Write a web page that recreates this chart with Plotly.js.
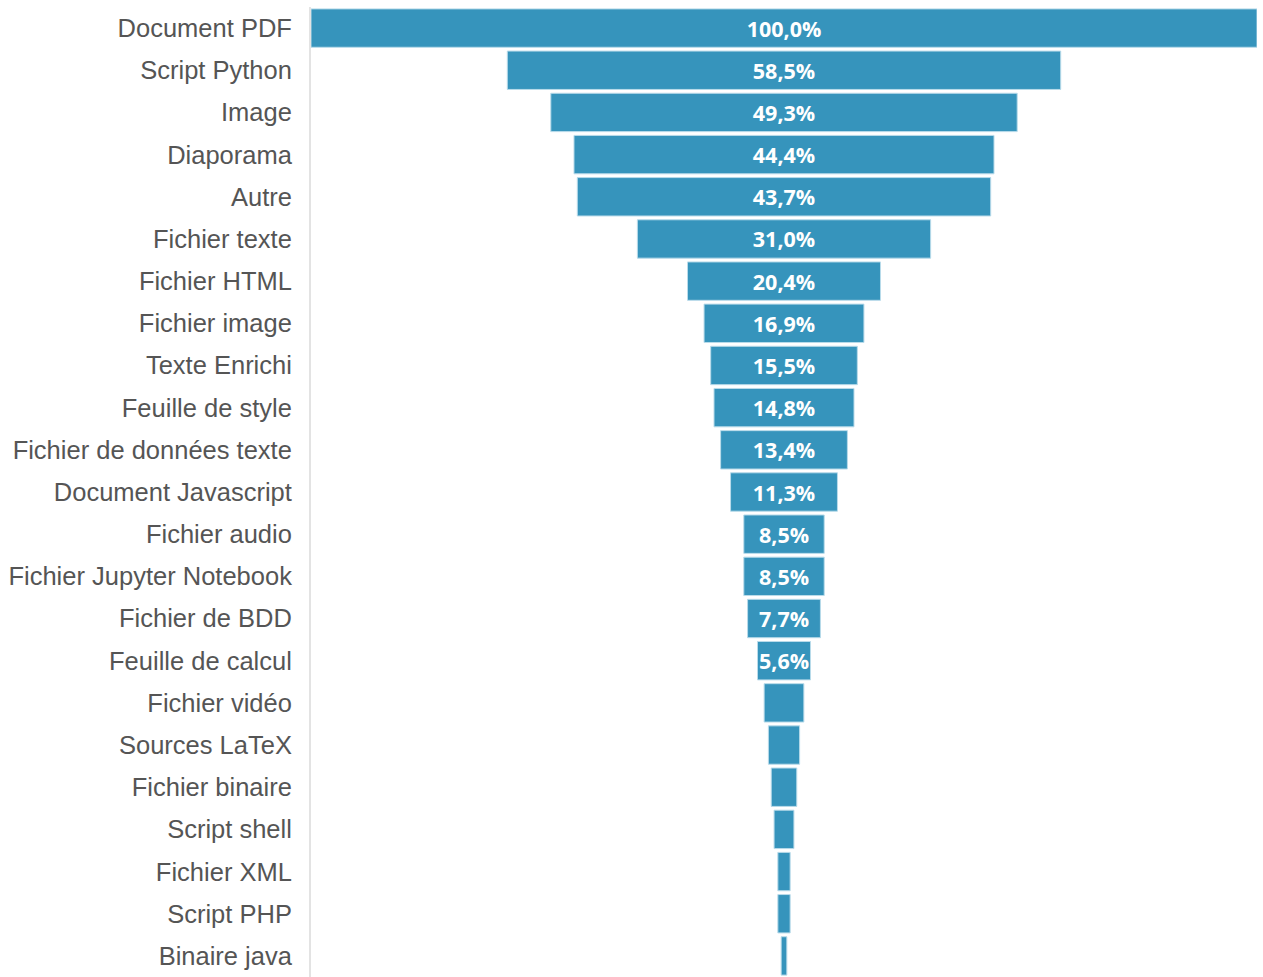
<!DOCTYPE html>
<html>
<head>
<meta charset="utf-8">
<script src="https://cdn.plot.ly/plotly-3.0.1.min.js"></script>
<style>html,body{margin:0;padding:0;background:#fff;}#chart{width:1263px;height:977px;}</style>
</head>
<body>
<div id="chart"></div>
<script>
const categories = ["Document PDF","Script Python","Image","Diaporama","Autre","Fichier texte","Fichier HTML","Fichier image","Texte Enrichi","Feuille de style","Fichier de données texte","Document Javascript","Fichier audio","Fichier Jupyter Notebook","Fichier de BDD","Feuille de calcul","Fichier vidéo","Sources LaTeX","Fichier binaire","Script shell","Fichier XML","Script PHP","Binaire java"];
const values = [100.0,58.5,49.3,44.4,43.7,31.0,20.4,16.9,15.5,14.8,13.4,11.3,8.5,8.5,7.7,5.6,4.2,3.3,2.7,2.1,1.3,1.3,0.6];
const labelMin = 5.0; // labels shown only on bars wide enough

const labels = values.map(v => v >= labelMin ? v.toFixed(1).replace('.', ',') + '%' : '');

const funnel = {
  type: 'funnel',
  orientation: 'h',
  y: categories,
  x: values,
  text: labels,
  textinfo: 'text',
  textposition: 'inside',
  insidetextanchor: 'middle',
  constraintext: 'none',
  textangle: 0,
  insidetextfont: {family: 'Open Sans, sans-serif', size: 21.5, color: '#ffffff', weight: 'bold'},
  marker: {color: '#3694bc', line: {color: '#b9dbea', width: 1}},
  connector: {visible: false},
  hoverinfo: 'x+y'
};

const layout = {
  width: 1263, height: 977,
  margin: {l: 311, r: 6, t: 7, b: 0, pad: 0},
  paper_bgcolor: '#ffffff', plot_bgcolor: '#ffffff',
  showlegend: false,
  funnelgap: 0.09,
  xaxis: {range: [-50, 50], showgrid: false, zeroline: false, showticklabels: false, showline: false, fixedrange: true},
  yaxis: {
    type: 'category',
    range: [categories.length - 0.5, -0.5],
    showgrid: false, zeroline: false,
    showline: true, linecolor: '#e3e3e3', linewidth: 2,
    ticks: '', ticklabelstandoff: 12,
    tickfont: {family: 'Liberation Sans, Arial, sans-serif', size: 25.5, color: '#555555'}
  }
};

Plotly.newPlot('chart', [funnel], layout, {displayModeBar: false, staticPlot: true});
</script>
</body>
</html>
